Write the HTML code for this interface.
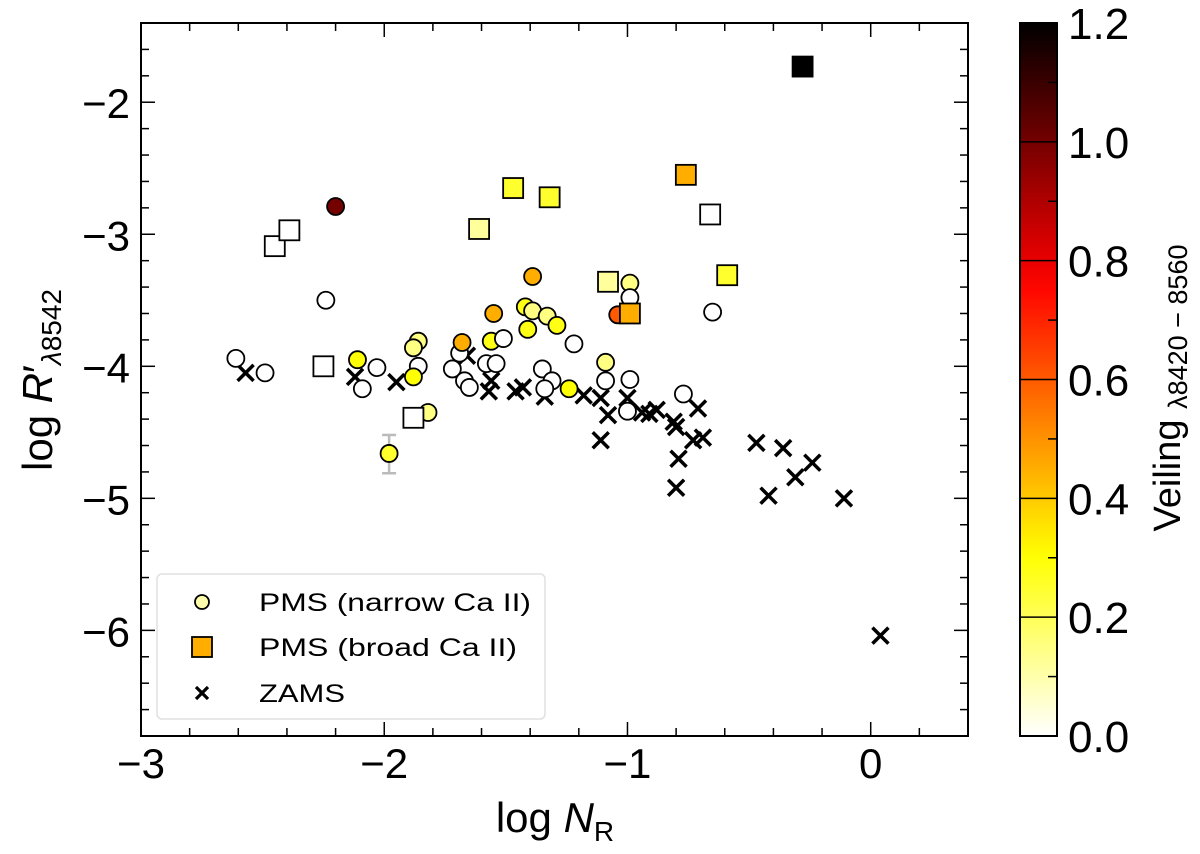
<!DOCTYPE html>
<html><head><meta charset="utf-8"><style>
body{margin:0;background:#fff}
svg{display:block;font-family:"Liberation Sans",sans-serif}
</style></head><body>
<svg id="chart" width="1200" height="854" viewBox="0 0 1200 854" xmlns="http://www.w3.org/2000/svg">
<defs><linearGradient id="cbg" x1="0" y1="1" x2="0" y2="0"></linearGradient></defs>
<g id="marks"></g>
<g id="axes"></g>
</svg>
<script>
// data
const narrowX=[-2.20,-2.24,-2.61,-2.49,-2.11,-2.03,-2.09,-1.86,-1.88,-1.86,-1.88,-1.82,-1.98,-1.72,-1.69,-1.68,-1.67,-1.65,-1.56,-1.51,-1.58,-1.54,-1.55,-1.39,-1.42,-1.39,-1.33,-1.29,-1.41,-1.22,-1.35,-1.31,-1.34,-1.24,-0.99,-0.99,-1.04,-0.65,-1.09,-1.09,-0.99,-0.77,-1.00];
const narrowY=[-2.79,-3.50,-3.94,-4.05,-3.95,-4.01,-4.17,-3.81,-3.86,-4.00,-4.08,-4.35,-4.66,-4.02,-3.90,-3.82,-4.11,-4.16,-3.81,-3.79,-3.98,-3.98,-3.60,-3.32,-3.55,-3.58,-3.62,-3.69,-3.72,-3.83,-4.02,-4.11,-4.17,-4.17,-3.37,-3.48,-3.61,-3.59,-3.97,-4.11,-4.10,-4.21,-4.34];
const narrowV=[1.0,0,0,0,0.3,0,0,0.15,0.15,0,0.3,0.15,0.25,0,0,0.45,0,0,0.28,0,0,0,0.45,0.45,0.28,0.15,0.15,0.28,0.28,0,0,0,0,0.3,0.15,0,0.6,0,0.15,0,0,0,0];
const broadX=[-2.45,-2.39,-2.25,-1.88,-1.61,-1.47,-1.32,-0.76,-0.66,-0.59,-1.08,-0.99,-0.28];
const broadY=[-3.09,-2.97,-4.00,-4.39,-2.96,-2.65,-2.72,-2.55,-2.85,-3.31,-3.36,-3.60,-1.73];
const broadV=[0,0,0,0,0.12,0.25,0.25,0.45,0,0.25,0.12,0.45,1.2];
const zamsX=[-2.57,-2.12,-1.95,-1.66,-1.56,-1.57,-1.46,-1.43,-1.34,-1.18,-1.11,-1.08,-1.00,-1.11,-0.94,-0.91,-0.88,-0.81,-0.80,-0.79,-0.80,-0.71,-0.73,-0.69,-0.47,-0.36,-0.42,-0.31,-0.24,-0.11,0.04];
const zamsY=[-4.05,-4.08,-4.12,-3.92,-4.11,-4.19,-4.19,-4.16,-4.23,-4.22,-4.24,-4.37,-4.24,-4.56,-4.35,-4.36,-4.33,-4.42,-4.46,-4.70,-4.92,-4.32,-4.56,-4.54,-4.58,-4.62,-4.98,-4.84,-4.73,-5.00,-6.04];
const errX=[-1.98]; const errLo=[-4.81]; const errHi=[-4.52];
const xTicks=[-3,-2,-1,0]; const xTickLabels=["\u22123","\u22122","\u22121","0"];
const yTicks=[-2,-3,-4,-5,-6]; const yTickLabels=["\u22122","\u22123","\u22124","\u22125","\u22126"];
const cbTicks=[0,0.2,0.4,0.6,0.8,1.0,1.2]; const cbTickLabels=["0.0","0.2","0.4","0.6","0.8","1.0","1.2"];

const L=141,R=968,T=23,B=736,X0=-3,X1=0.4,Y0=-6.8,Y1=-1.4;
const sx=v=>L+(v-X0)/(X1-X0)*(R-L);
const sy=v=>B-(v-Y0)/(Y1-Y0)*(B-T);
const NS="http://www.w3.org/2000/svg";
function mk(t,a,p){const e=document.createElementNS(NS,t);for(const k in a)e.setAttribute(k,a[k]);p.appendChild(e);return e;}
function hot(v){const x=1-Math.min(Math.max(v/1.2,0),1);
 const r=Math.min(1,x/0.365),g=Math.min(1,Math.max(0,(x-0.365)/0.381)),b=Math.min(1,Math.max(0,(x-0.746)/0.254));
 return `rgb(${Math.round(r*255)},${Math.round(g*255)},${Math.round(b*255)})`;}
const M=document.getElementById('marks'),A=document.getElementById('axes');

for(let i=0;i<errX.length;i++){const g=mk('g',{stroke:'#bbb','stroke-width':2.5},M);
 
 
 const x=sx(errX[i]);mk('line',{x1:x,x2:x,y1:sy(errLo[i]),y2:sy(errHi[i])},g);
 mk('line',{x1:x-7,x2:x+7,y1:sy(errLo[i]),y2:sy(errLo[i])},g);mk('line',{x1:x-7,x2:x+7,y1:sy(errHi[i]),y2:sy(errHi[i])},g);}
for(let i=0;i<zamsX.length;i++){const x=sx(zamsX[i]),y=sy(zamsY[i]),d=8;
 const p=mk('path',{d:`M${x-d},${y-d}L${x+d},${y+d}M${x-d},${y+d}L${x+d},${y-d}`,stroke:'#000','stroke-width':3.5,fill:'none'},M);
 
 }
for(let i=0;i<narrowX.length;i++){const c=mk('circle',{cx:sx(narrowX[i]),cy:sy(narrowY[i]),r:8.5,fill:hot(narrowV[i]),stroke:'#000','stroke-width':1.8},M);
 
 }
for(let i=0;i<broadX.length;i++){const s=mk('rect',{x:sx(broadX[i])-10,y:sy(broadY[i])-10,width:20,height:20,fill:hot(broadV[i]),stroke:'#000','stroke-width':1.8},M);
 
 }

const fr=mk('rect',{x:L,y:T,width:R-L,height:B-T,fill:'none',stroke:'#000','stroke-width':2},A);


for(let k=0;k<=17;k++){const v=-3+k*0.2,x=sx(v),maj=k%5==0,l=maj?14:8;
 mk('line',{x1:x,x2:x,y1:B,y2:B-l,stroke:'#000','stroke-width':1.5},A);mk('line',{x1:x,x2:x,y1:T,y2:T+l,stroke:'#000','stroke-width':1.5},A);}
for(let k=0;k<=27;k++){const v=-6.8+k*0.2,y=sy(v),maj=(k-4)%5==0,l=maj?14:8;
 mk('line',{x1:L,x2:L+l,y1:y,y2:y,stroke:'#000','stroke-width':1.5},A);mk('line',{x1:R,x2:R-l,y1:y,y2:y,stroke:'#000','stroke-width':1.5},A);}
xTicks.forEach((v,i)=>{const t=mk('text',{x:sx(v),y:778,'font-size':42,'text-anchor':'middle'},A);t.textContent=xTickLabels[i];
 
 });
yTicks.forEach((v,i)=>{const t=mk('text',{x:130,y:sy(v)+16,'font-size':42,'text-anchor':'end'},A);t.textContent=yTickLabels[i];
 
 });
const xl=mk('text',{x:555,y:832,'font-size':42,'text-anchor':'middle'},A);


xl.innerHTML='log <tspan font-style="italic">N</tspan><tspan font-size="28" dy="9">R</tspan>';
const yl=mk('text',{transform:'translate(52,380) rotate(-90)','font-size':42,'text-anchor':'middle'},A);


yl.innerHTML='log <tspan font-style="italic">R</tspan>′<tspan font-size="28" dy="9" font-style="italic">λ</tspan><tspan font-size="28">8542</tspan>';

const lg=mk('g',{},A);


mk('rect',{x:157,y:574,width:388,height:145,rx:5,fill:'#fff',stroke:'#ddd','stroke-width':1.5,opacity:0.9},lg);
mk('circle',{cx:202,cy:602,r:7,fill:hot(0.1),stroke:'#000','stroke-width':1.8},lg);
mk('rect',{x:192,y:637,width:20,height:20,fill:hot(0.45),stroke:'#000','stroke-width':1.8},lg);
mk('path',{d:'M196,687L208,699M196,699L208,687',stroke:'#000','stroke-width':3.2},lg);
[['PMS (narrow Ca II)',611,272],['PMS (broad Ca II)',656,258],['ZAMS',702,86]].forEach(([s,y,w])=>{const t=mk('text',{x:259,y:y,'font-size':25,textLength:w,lengthAdjust:'spacingAndGlyphs'},lg);t.textContent=s;
 
 });

const grad=document.getElementById('cbg');
for(let k=0;k<=24;k++){const v=k*0.05;mk('stop',{offset:(v/1.2),'stop-color':hot(v)},grad);}
const CL=1020,CR=1057,CT=23,CB=736,cy=v=>CB-v/1.2*(CB-CT);
const cb=mk('rect',{x:CL,y:CT,width:CR-CL,height:CB-CT,fill:'url(#cbg)',stroke:'#000','stroke-width':2},A);


for(let k=1;k<12;k++){const y=cy(k*0.1);mk('line',{x1:k%2?CR-9:CL,x2:CR,y1:y,y2:y,stroke:'#000','stroke-width':1.5},A);}
cbTicks.forEach((v,i)=>{const t=mk('text',{x:1068,y:cy(v)+16,'font-size':44},A);t.textContent=cbTickLabels[i];
 
 });
const cl=mk('text',{transform:'translate(1180,388) rotate(-90)','font-size':38,'text-anchor':'middle'},A);


cl.innerHTML='Veiling <tspan font-size="27" dy="7">λ8420 − 8560</tspan>';
</script>
</body></html>
